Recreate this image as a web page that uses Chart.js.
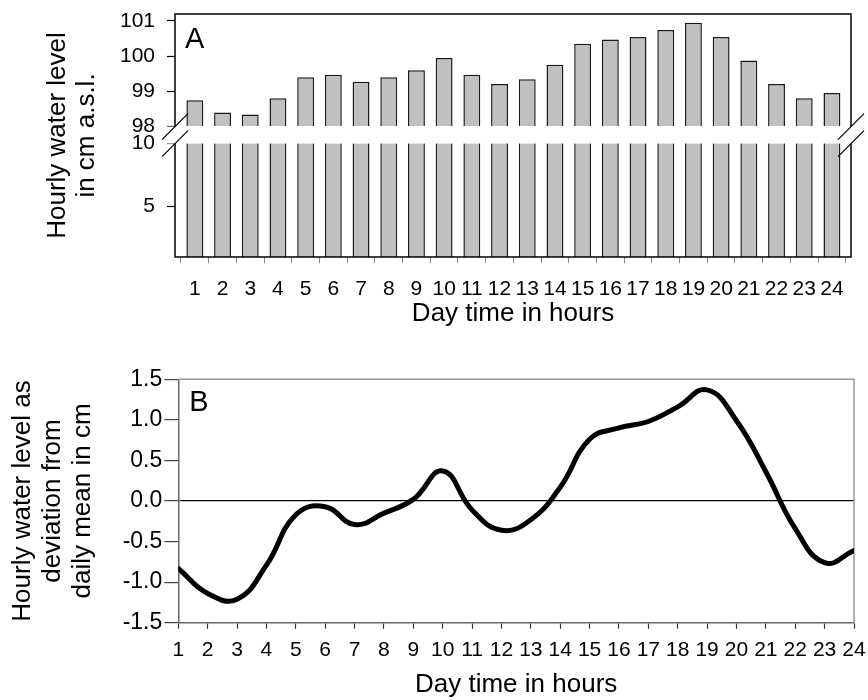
<!DOCTYPE html>
<html>
<head>
<meta charset="utf-8">
<script src="https://cdn.jsdelivr.net/npm/chart.js@4.4.1/dist/chart.umd.min.js"></script>
<style>
html, body { margin: 0; padding: 0; background: #fff; }
#wrapA { position: absolute; left: 0; top: 0; width: 868px; height: 330px; }
#wrapB { position: absolute; left: 0; top: 330px; width: 868px; height: 370px; }
</style>
</head>
<body>
<div id="wrapA"><canvas id="chartA"></canvas></div>
<div id="wrapB"><canvas id="chartB"></canvas></div>
<script>
// ---- data ----
const hours = [1, 2, 3, 4, 5, 6, 7, 8, 9, 10, 11, 12, 13, 14, 15, 16, 17, 18, 19, 20, 21, 22, 23, 24];
const levelCm = [98.75, 98.40, 98.34, 98.80, 99.40, 99.47, 99.27, 99.40, 99.60, 99.94, 99.47, 99.21,
                 99.34, 99.75, 100.35, 100.47, 100.54, 100.74, 100.94, 100.54, 99.87, 99.21, 98.80, 98.95];
const deviationCm = [-0.83, -1.14, -1.21, -0.79, -0.17, -0.07, -0.29, -0.15, 0.02, 0.37, -0.11, -0.36,
                     -0.23, 0.17, 0.76, 0.90, 0.98, 1.16, 1.37, 0.99, 0.36, -0.34, -0.76, -0.61];
const levelTicksUpper = [98, 99, 100, 101];
const levelTicksLower = [5, 10];
const deviationTicks = [-1.5, -1.0, -0.5, 0.0, 0.5, 1.0, 1.5];
const breakUpper = 98;   // lowest value shown above the axis break
const breakLower = 10;   // highest value shown below the axis break
const xTitle = 'Day time in hours';
const yTitleA = ['Hourly water level', 'in cm a.s.l.'];
const yTitleB = ['Hourly water level as', 'deviation from', 'daily mean in cm'];
const panelA = 'A';
const panelB = 'B';

// ---- common settings ----
const FONT = "'Liberation Sans', Arial, Helvetica, sans-serif";
Chart.defaults.font.family = FONT;
Chart.defaults.color = '#000';
Chart.defaults.animation = false;

const tickFont = { size: 21 };
const axisTitleFont = { size: 26, lineHeight: 1.2 };

function setTicks(values) { return s => { s.ticks = values.map(v => ({ value: v })); }; }
function fixWidth(w) {
  return s => { s.width = w; s.paddingTop = 0; s.paddingBottom = 0; s.paddingLeft = 0; s.paddingRight = 0; };
}
function fixHeight(h) {
  return s => { s.height = h; s.paddingTop = 0; s.paddingBottom = 0; s.paddingLeft = 0; s.paddingRight = 0; };
}

const levelPoints = hours.map((h, i) => ({ x: h, y: levelCm[i] }));
const deviationPoints = hours.map((h, i) => ({ x: h, y: deviationCm[i] }));

// ---- panel A plugin: frame, axis break, panel letter ----
const breakPlugin = {
  id: 'axisBreak',
  afterDatasetsDraw(chart) {
    const { ctx, chartArea: a, scales } = chart;
    const yTop = scales.yHigh.getPixelForValue(breakUpper);
    const yBot = scales.yLow.getPixelForValue(breakLower);
    ctx.save();
    ctx.strokeStyle = '#000';
    ctx.lineWidth = 1.5;
    ctx.strokeRect(a.left, a.top, a.right - a.left, a.bottom - a.top);
    ctx.fillStyle = '#fff';
    ctx.fillRect(a.left - 12, yTop, a.right - a.left + 24, yBot - yTop);
    ctx.lineWidth = 1.3;
    [a.left, a.right].forEach(ax => {
      [yTop, yBot].forEach(y => {
        ctx.beginPath();
        ctx.moveTo(ax - 13, y + 13);
        ctx.lineTo(ax + 13, y - 13);
        ctx.stroke();
      });
    });
    ctx.fillStyle = '#000';
    ctx.font = '29px ' + FONT;
    ctx.textAlign = 'left';
    ctx.textBaseline = 'middle';
    ctx.fillText(panelA, a.left + 10, a.top + 26);
    ctx.restore();
  }
};

const barStyle = {
  backgroundColor: '#c0c0c0',
  borderColor: '#1a1a1a',
  borderWidth: 1.5,
  grouped: false,
  barPercentage: 0.61,
  categoryPercentage: 1
};

new Chart(document.getElementById('chartA'), {
  type: 'bar',
  data: {
    datasets: [
      Object.assign({ label: 'below break', data: levelPoints, yAxisID: 'yLow', base: 1 }, barStyle),
      Object.assign({ label: 'above break', data: levelPoints, yAxisID: 'yHigh', base: breakUpper }, barStyle)
    ]
  },
  options: {
    responsive: true,
    maintainAspectRatio: false,
    layout: { padding: { left: 0, right: 17, top: 14, bottom: 0 } },
    plugins: {
      legend: { display: false },
      tooltip: { enabled: false },
      title: {
        display: true, position: 'left', fullSize: false, text: yTitleA, color: '#000',
        font: { size: 26, lineHeight: 29 / 26, weight: 'normal' },
        padding: { top: 43.5, bottom: 0 }
      }
    },
    scales: {
      x: {
        type: 'linear', min: 0.792, max: 24.18,
        afterBuildTicks: setTicks(hours),
        afterFit: fixHeight(73),
        grid: { drawOnChartArea: false, drawTicks: true, tickLength: 6, tickColor: '#888', tickWidth: 1 },
        border: { display: false },
        ticks: { font: tickFont, padding: 13.4, maxRotation: 0, autoSkip: false },
        title: { display: true, text: xTitle, font: axisTitleFont, padding: { top: 0, bottom: 1 } }
      },
      yLow: {
        type: 'linear', position: 'left', stack: 'level', stackWeight: 1,
        min: 1.0, max: 10.643,
        afterBuildTicks: setTicks(levelTicksLower),
        afterFit: fixWidth(73.5),
        grid: { drawOnChartArea: false, tickLength: 8, tickColor: '#000', tickWidth: 1.2 },
        border: { display: false },
        ticks: { font: tickFont, padding: 12, autoSkip: false }
      },
      yHigh: {
        type: 'linear', position: 'left', stack: 'level', stackWeight: 1,
        min: 97.748, max: 101.19,
        afterBuildTicks: setTicks(levelTicksUpper),
        afterFit: fixWidth(73.5),
        grid: { drawOnChartArea: false, tickLength: 8, tickColor: '#000', tickWidth: 1.2 },
        border: { display: false },
        ticks: { font: tickFont, padding: 12, autoSkip: false }
      }
    }
  },
  plugins: [breakPlugin]
});

// ---- panel B ----
const frameB = {
  id: 'frameB',
  beforeDatasetsDraw(chart) {
    const { ctx, chartArea: a } = chart;
    ctx.save();
    ctx.strokeStyle = '#999';
    ctx.lineWidth = 1.5;
    ctx.beginPath();
    ctx.moveTo(a.left, a.top);
    ctx.lineTo(a.right, a.top);
    ctx.lineTo(a.right, a.bottom);
    ctx.stroke();
    ctx.fillStyle = '#000';
    ctx.font = '29px ' + FONT;
    ctx.textAlign = 'left';
    ctx.textBaseline = 'middle';
    ctx.fillText(panelB, a.left + 11, a.top + 24);
    ctx.restore();
  }
};

new Chart(document.getElementById('chartB'), {
  type: 'line',
  data: {
    datasets: [{
      label: 'deviation',
      data: deviationPoints,
      borderColor: '#000',
      borderWidth: 5,
      pointRadius: 0,
      tension: 0.45,
      fill: false,
      borderCapStyle: 'round',
      borderJoinStyle: 'round'
    }]
  },
  options: {
    responsive: true,
    maintainAspectRatio: false,
    layout: { padding: { left: 0, right: 14, top: 49.3, bottom: 0 } },
    plugins: {
      legend: { display: false },
      tooltip: { enabled: false },
      title: {
        display: true, position: 'left', fullSize: false, text: yTitleB, color: '#000',
        font: { size: 26, lineHeight: 30 / 26, weight: 'normal' },
        padding: { top: 8, bottom: 0 }
      }
    },
    scales: {
      x: {
        type: 'linear', min: 1, max: 24,
        afterBuildTicks: setTicks(hours),
        afterFit: fixHeight(77.3),
        grid: { drawOnChartArea: false, tickLength: 6, tickColor: '#333', tickWidth: 1.2 },
        border: { color: '#666', width: 1.5 },
        ticks: { font: tickFont, padding: 8.7, maxRotation: 0, autoSkip: false },
        title: { display: true, text: xTitle, font: axisTitleFont, padding: { top: 0, bottom: 0 } }
      },
      y: {
        type: 'linear', min: -1.5, max: 1.5,
        afterBuildTicks: setTicks(deviationTicks),
        afterFit: fixWidth(80.3),
        grid: {
          color: c => (c.tick && c.tick.value === 0 ? '#000' : 'rgba(0,0,0,0)'),
          lineWidth: 1.2, tickLength: 14, tickColor: '#444', tickWidth: 1.2
        },
        border: { color: '#666', width: 1.5 },
        ticks: { font: { size: 23 }, padding: 2, autoSkip: false, callback: v => v.toFixed(1) }
      }
    }
  },
  plugins: [frameB]
});
</script>
</body>
</html>
